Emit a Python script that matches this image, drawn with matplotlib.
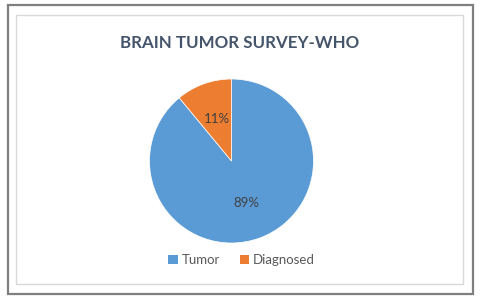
import matplotlib.pyplot as plt
from matplotlib.patches import Rectangle, Patch

# data
labels = ['Tumor', 'Diagnosed']
values = [89, 11]
colors = ['#5B9BD5', '#ED7D31']

plt.rcParams['font.family'] = ['Lato', 'DejaVu Sans']

W, H = 480, 304
fig = plt.figure(figsize=(W / 100, H / 100), dpi=100)

# outer dark frame and inner light chart border (pixel coords from top-left)
def px_rect(x0, y0, x1, y1, **kw):
    return Rectangle((x0 / W, 1 - y1 / H), (x1 - x0) / W, (y1 - y0) / H,
                     transform=fig.transFigure, fill=False, **kw)

fig.patches.append(px_rect(8, 5, 473, 294, edgecolor='#7f7f7f', linewidth=1.6))
fig.patches.append(px_rect(16, 15, 463, 284, edgecolor='#d9d9d9', linewidth=1.0))

# pie axes
cx, cy, r = 231.5, 161, 82
ax = fig.add_axes([(cx - r) / W, 1 - (cy + r) / H, 2 * r / W, 2 * r / H])
wedges, texts, autotexts = ax.pie(values, colors=colors, startangle=90,
                                  counterclock=False, autopct='%1.0f%%',
                                  pctdistance=0.54, radius=1,
                                  wedgeprops=dict(linewidth=0.5, edgecolor='white'),
                                  textprops=dict(color='#404040', fontsize=9.5))
ax.set_xlim(-1, 1)
ax.set_ylim(-1, 1)
ax.set_aspect('equal')
ax.axis('off')

fig.text(0.5, 1 - 43 / H, 'BRAIN TUMOR SURVEY-WHO', ha='center', va='center',
         fontsize=12.2, fontweight='bold', color='#44546A')

handles = [Patch(facecolor=c, edgecolor='none') for c in colors]
fig.legend(handles, labels, loc='center', bbox_to_anchor=(0.503, 1 - 260 / H),
           ncol=2, frameon=False, fontsize=9.5, handlelength=0.7, handleheight=0.7,
           handletextpad=0.3, columnspacing=1.5, labelcolor='#595959')

fig.savefig('out.png', dpi=100)
